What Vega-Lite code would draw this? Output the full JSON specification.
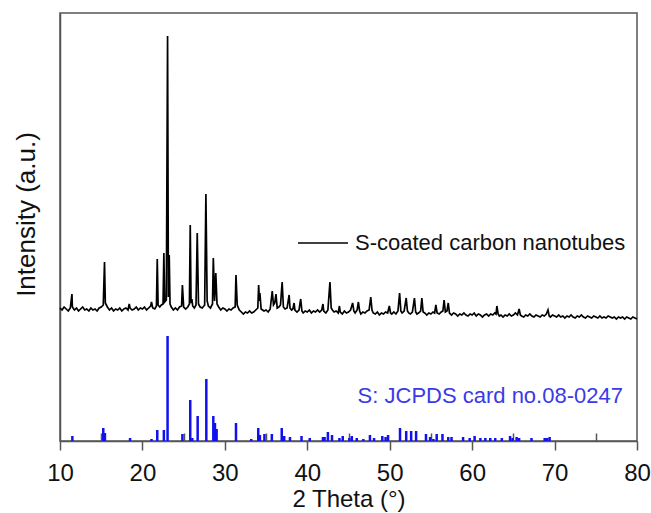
{
"$schema": "https://vega.github.io/schema/vega-lite/v6.json",
"width": 577, "height": 428,
"autosize": {"type": "none"},
"padding": {"left": 60, "top": 13, "right": 14, "bottom": 72},
"config": {"font": "Liberation Sans", "view": {"stroke": "#555", "strokeWidth": 1.5},
"axisY": {"ticks": false, "labels": false, "domain": true, "domainColor": "#555", "domainWidth": 1.5, "grid": false, "titleFontSize": 26, "titleFontWeight": "normal", "titleColor": "#111", "titleX": -21, "titleY": 201, "titleAngle": 270, "titleBaseline": "bottom", "titleAlign": "center"}},
"datasets": {
"spec": [
{"t":10,"i":133},{"t":10.25,"i":131},{"t":10.5,"i":134},{"t":10.75,"i":132},{"t":11,"i":130},{"t":11.25,"i":133},{"t":11.45,"i":147},{"t":11.5,"i":134},{"t":11.75,"i":131},{"t":12,"i":133},{"t":12.25,"i":130},{"t":12.5,"i":132},{"t":12.75,"i":134},{"t":13,"i":131},{"t":13.25,"i":132},{"t":13.5,"i":130},{"t":13.75,"i":133},{"t":14,"i":131},{"t":14.25,"i":132},{"t":14.5,"i":130},{"t":14.75,"i":133},{"t":15,"i":134},{"t":15.25,"i":136},{"t":15.4,"i":179},{"t":15.5,"i":138},{"t":15.75,"i":134},{"t":16,"i":131},{"t":16.25,"i":133},{"t":16.5,"i":130},{"t":16.75,"i":132},{"t":17,"i":131},{"t":17.25,"i":133},{"t":17.5,"i":130},{"t":17.75,"i":132},{"t":18,"i":133},{"t":18.25,"i":131},{"t":18.4,"i":137},{"t":18.5,"i":133},{"t":18.75,"i":131},{"t":19,"i":132},{"t":19.25,"i":134},{"t":19.5,"i":131},{"t":19.75,"i":133},{"t":20,"i":132},{"t":20.25,"i":134},{"t":20.5,"i":131},{"t":20.75,"i":133},{"t":21,"i":135},{"t":21.1,"i":139},{"t":21.25,"i":133},{"t":21.5,"i":132},{"t":21.7,"i":135},{"t":21.8,"i":182},{"t":21.9,"i":136},{"t":22.1,"i":134},{"t":22.3,"i":136},{"t":22.5,"i":137},{"t":22.6,"i":188},{"t":22.7,"i":139},{"t":22.9,"i":141},{"t":23.05,"i":405},{"t":23.15,"i":144},{"t":23.25,"i":186},{"t":23.35,"i":137},{"t":23.5,"i":134},{"t":23.75,"i":131},{"t":24,"i":133},{"t":24.25,"i":131},{"t":24.5,"i":134},{"t":24.75,"i":135},{"t":24.85,"i":156},{"t":25,"i":134},{"t":25.25,"i":132},{"t":25.5,"i":134},{"t":25.7,"i":137},{"t":25.8,"i":216},{"t":25.9,"i":138},{"t":26,"i":142},{"t":26.1,"i":135},{"t":26.3,"i":133},{"t":26.5,"i":136},{"t":26.65,"i":208},{"t":26.8,"i":137},{"t":27,"i":134},{"t":27.25,"i":133},{"t":27.55,"i":136},{"t":27.7,"i":247},{"t":27.85,"i":140},{"t":28,"i":135},{"t":28.25,"i":133},{"t":28.5,"i":137},{"t":28.6,"i":183},{"t":28.75,"i":140},{"t":28.9,"i":168},{"t":29.05,"i":137},{"t":29.25,"i":134},{"t":29.5,"i":131},{"t":29.75,"i":133},{"t":30,"i":132},{"t":30.25,"i":130},{"t":30.5,"i":132},{"t":30.75,"i":131},{"t":31,"i":133},{"t":31.25,"i":134},{"t":31.35,"i":166},{"t":31.5,"i":136},{"t":31.75,"i":131},{"t":32,"i":129},{"t":32.25,"i":127},{"t":32.5,"i":129},{"t":32.75,"i":128},{"t":33,"i":130},{"t":33.25,"i":128},{"t":33.5,"i":129},{"t":33.75,"i":131},{"t":34,"i":133},{"t":34.1,"i":156},{"t":34.2,"i":140},{"t":34.25,"i":148},{"t":34.4,"i":132},{"t":34.75,"i":130},{"t":35,"i":131},{"t":35.25,"i":129},{"t":35.5,"i":132},{"t":35.75,"i":150},{"t":35.9,"i":136},{"t":36.05,"i":138},{"t":36.2,"i":147},{"t":36.35,"i":133},{"t":36.55,"i":134},{"t":36.75,"i":136},{"t":36.95,"i":159},{"t":37.1,"i":134},{"t":37.3,"i":132},{"t":37.55,"i":133},{"t":37.8,"i":146},{"t":37.9,"i":133},{"t":38.1,"i":131},{"t":38.25,"i":132},{"t":38.4,"i":138},{"t":38.5,"i":131},{"t":38.75,"i":129},{"t":39,"i":131},{"t":39.2,"i":142},{"t":39.35,"i":130},{"t":39.5,"i":128},{"t":39.75,"i":130},{"t":40,"i":129},{"t":40.25,"i":131},{"t":40.5,"i":128},{"t":40.75,"i":130},{"t":41,"i":129},{"t":41.25,"i":131},{"t":41.5,"i":129},{"t":41.75,"i":131},{"t":41.9,"i":137},{"t":42,"i":130},{"t":42.25,"i":128},{"t":42.5,"i":131},{"t":42.75,"i":159},{"t":42.9,"i":133},{"t":43.05,"i":131},{"t":43.25,"i":129},{"t":43.5,"i":130},{"t":43.75,"i":128},{"t":43.9,"i":135},{"t":44,"i":129},{"t":44.25,"i":127},{"t":44.5,"i":130},{"t":44.75,"i":128},{"t":45,"i":129},{"t":45.25,"i":131},{"t":45.5,"i":138},{"t":45.65,"i":130},{"t":45.8,"i":128},{"t":46.05,"i":131},{"t":46.2,"i":139},{"t":46.35,"i":130},{"t":46.5,"i":127},{"t":46.75,"i":129},{"t":47,"i":128},{"t":47.25,"i":130},{"t":47.5,"i":131},{"t":47.7,"i":144},{"t":47.85,"i":131},{"t":48,"i":128},{"t":48.25,"i":127},{"t":48.5,"i":129},{"t":48.75,"i":126},{"t":49,"i":128},{"t":49.25,"i":127},{"t":49.5,"i":129},{"t":49.75,"i":128},{"t":49.95,"i":135},{"t":50.1,"i":128},{"t":50.25,"i":127},{"t":50.5,"i":129},{"t":50.75,"i":127},{"t":51,"i":130},{"t":51.2,"i":148},{"t":51.35,"i":130},{"t":51.5,"i":128},{"t":51.75,"i":130},{"t":52,"i":143},{"t":52.15,"i":130},{"t":52.3,"i":128},{"t":52.5,"i":127},{"t":52.75,"i":129},{"t":53,"i":143},{"t":53.15,"i":129},{"t":53.3,"i":127},{"t":53.5,"i":128},{"t":53.75,"i":130},{"t":53.9,"i":143},{"t":54.05,"i":129},{"t":54.25,"i":128},{"t":54.5,"i":126},{"t":54.75,"i":128},{"t":55,"i":127},{"t":55.25,"i":129},{"t":55.45,"i":128},{"t":55.6,"i":136},{"t":55.75,"i":128},{"t":56,"i":127},{"t":56.25,"i":129},{"t":56.45,"i":130},{"t":56.6,"i":141},{"t":56.75,"i":129},{"t":56.95,"i":130},{"t":57.1,"i":138},{"t":57.25,"i":128},{"t":57.5,"i":126},{"t":57.75,"i":128},{"t":58,"i":127},{"t":58.25,"i":125},{"t":58.5,"i":127},{"t":58.75,"i":126},{"t":59,"i":128},{"t":59.25,"i":126},{"t":59.5,"i":125},{"t":59.75,"i":127},{"t":60,"i":126},{"t":60.25,"i":128},{"t":60.5,"i":125},{"t":60.75,"i":127},{"t":61,"i":126},{"t":61.25,"i":124},{"t":61.5,"i":126},{"t":61.75,"i":127},{"t":62,"i":125},{"t":62.25,"i":127},{"t":62.5,"i":126},{"t":62.75,"i":128},{"t":62.9,"i":127},{"t":63,"i":135},{"t":63.15,"i":127},{"t":63.3,"i":125},{"t":63.5,"i":126},{"t":63.75,"i":124},{"t":64,"i":126},{"t":64.25,"i":125},{"t":64.5,"i":127},{"t":64.75,"i":125},{"t":65,"i":126},{"t":65.25,"i":128},{"t":65.5,"i":126},{"t":65.7,"i":132},{"t":65.85,"i":126},{"t":66,"i":125},{"t":66.25,"i":124},{"t":66.5,"i":126},{"t":66.75,"i":125},{"t":67,"i":127},{"t":67.25,"i":125},{"t":67.5,"i":124},{"t":67.75,"i":126},{"t":68,"i":125},{"t":68.25,"i":124},{"t":68.5,"i":126},{"t":68.75,"i":125},{"t":69,"i":127},{"t":69.2,"i":131},{"t":69.35,"i":125},{"t":69.5,"i":124},{"t":69.75,"i":126},{"t":70,"i":125},{"t":70.25,"i":124},{"t":70.5,"i":126},{"t":70.75,"i":124},{"t":71,"i":125},{"t":71.25,"i":123},{"t":71.5,"i":125},{"t":71.75,"i":124},{"t":72,"i":126},{"t":72.25,"i":124},{"t":72.5,"i":123},{"t":72.75,"i":125},{"t":73,"i":124},{"t":73.25,"i":126},{"t":73.5,"i":124},{"t":73.75,"i":123},{"t":74,"i":125},{"t":74.25,"i":124},{"t":74.5,"i":123},{"t":74.75,"i":125},{"t":75,"i":124},{"t":75.25,"i":123},{"t":75.5,"i":125},{"t":75.75,"i":123},{"t":76,"i":124},{"t":76.25,"i":123},{"t":76.5,"i":125},{"t":76.75,"i":124},{"t":77,"i":123},{"t":77.25,"i":124},{"t":77.5,"i":122},{"t":77.75,"i":124},{"t":78,"i":123},{"t":78.25,"i":124},{"t":78.5,"i":122},{"t":78.75,"i":124},{"t":79,"i":123},{"t":79.25,"i":122},{"t":79.5,"i":124},{"t":79.75,"i":123},{"t":80,"i":122}
],
"ref": [
{"t":11.5,"h":5},{"t":15.25,"h":13},{"t":15.45,"h":8},{"t":18.5,"h":3},{"t":21.1,"h":2},{"t":21.8,"h":11},{"t":22.6,"h":11},{"t":23.05,"h":105},{"t":24.85,"h":7},{"t":25.8,"h":41},{"t":26.05,"h":3},{"t":26.7,"h":25},{"t":27.75,"h":62},{"t":28.6,"h":25},{"t":28.8,"h":18},{"t":29.0,"h":12},{"t":31.35,"h":18},{"t":33.2,"h":2},{"t":34.05,"h":13},{"t":34.25,"h":6},{"t":34.8,"h":7},{"t":35.7,"h":7},{"t":36.9,"h":13},{"t":37.2,"h":5},{"t":37.9,"h":4},{"t":39.3,"h":5},{"t":40.3,"h":3},{"t":41.9,"h":4},{"t":42.1,"h":4},{"t":42.5,"h":9},{"t":43.0,"h":6},{"t":43.9,"h":3},{"t":44.3,"h":5},{"t":45.1,"h":3},{"t":45.4,"h":5},{"t":46.0,"h":3},{"t":46.8,"h":2},{"t":47.6,"h":6},{"t":48.1,"h":3},{"t":49.1,"h":5},{"t":49.5,"h":4},{"t":49.8,"h":6},{"t":51.25,"h":13},{"t":52.0,"h":10},{"t":52.6,"h":10},{"t":53.2,"h":10},{"t":54.4,"h":7},{"t":54.9,"h":4},{"t":55.3,"h":2},{"t":55.7,"h":7},{"t":56.4,"h":7},{"t":57.1,"h":4},{"t":57.5,"h":4},{"t":58.9,"h":4},{"t":59.7,"h":3},{"t":60.3,"h":5},{"t":61.0,"h":3},{"t":61.6,"h":3},{"t":62.2,"h":3},{"t":62.8,"h":3},{"t":63.6,"h":3},{"t":64.6,"h":5},{"t":64.9,"h":3},{"t":65.4,"h":4},{"t":65.7,"h":3},{"t":67.2,"h":3},{"t":68.8,"h":3},{"t":69.1,"h":3},{"t":69.4,"h":4}
]
},
"resolve": {"axis": {"x": "independent"}},
"layer": [
{
"data": {"name": "ref"},
"mark": {"type": "rule", "color": "#1010f0", "strokeWidth": 2.5},
"encoding": {
"x": {"field": "t", "type": "quantitative", "scale": {"domain": [10, 80], "nice": false},
"axis": {"orient": "bottom", "values": [15, 25, 35, 45, 55, 65, 75], "tickSize": -8, "tickColor": "#555", "tickWidth": 1.5, "labels": false, "domain": false, "grid": false, "title": null}},
"y": {"field": "h", "type": "quantitative", "scale": {"domain": [0, 428], "nice": false}, "axis": {"title": "Intensity (a.u.)"}},
"y2": {"datum": 0}
}
},
{
"data": {"name": "spec"},
"mark": {"type": "line", "strokeWidth": 1.7},
"encoding": {
"x": {"field": "t", "type": "quantitative",
"axis": {"orient": "bottom", "values": [10, 20, 30, 40, 50, 60, 70, 80], "tickSize": 9, "tickColor": "#555", "tickWidth": 1.5, "domainColor": "#555", "domainWidth": 1.5, "labelFontSize": 24, "labelColor": "#111", "labelPadding": 11, "labelFlush": false, "labelOverlap": false, "grid": false, "title": "2 Theta (°)", "titleFontSize": 24, "titleFontWeight": "normal", "titleColor": "#111", "titlePadding": 2}},
"y": {"field": "i", "type": "quantitative", "axis": {"title": "Intensity (a.u.)"}},
"color": {"datum": "S-coated carbon nanotubes", "scale": {"range": ["#000000"]},
"legend": {"orient": "none", "legendX": 237, "legendY": 204, "title": null, "symbolType": "stroke", "symbolSize": 2500, "symbolStrokeWidth": 1.5, "labelFontSize": 22, "labelColor": "#111", "labelLimit": 500, "labelOffset": 6, "padding": 0}}
}
},
{
"data": {"values": [{}]},
"mark": {"type": "text", "text": "S: JCPDS card no.08-0247", "fontSize": 22, "color": "#3a3ae6", "align": "center", "baseline": "middle"},
"encoding": {
"x": {"datum": 62.2, "type": "quantitative", "axis": null},
"y": {"datum": 45, "type": "quantitative", "axis": {"title": "Intensity (a.u.)"}}
}
}
]
}
